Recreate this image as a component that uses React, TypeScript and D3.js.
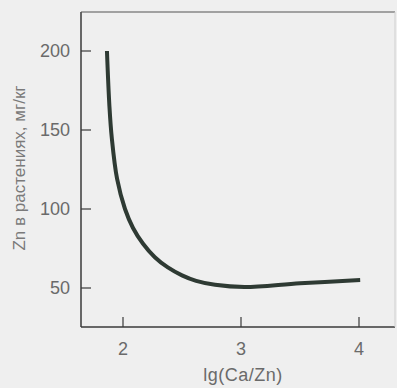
import React from "react";
import * as d3 from "d3";

const lgRatio = [1.864, 1.885, 1.905, 1.95, 2.017, 2.085, 2.17, 2.27, 2.38, 2.5, 2.62, 2.78, 3.03, 3.5, 4.01];
const znPlant = [200, 165, 145, 119, 100, 88, 78, 69.5, 63, 58, 54.5, 52, 50.6, 53, 55];
const xTicks = [2, 3, 4];
const yTicks = [50, 100, 150, 200];

export default function App() {
  const W = 397, H = 388;
  const left = 81, right = 395, top = 12, bottom = 327;
  const x = d3.scaleLinear().domain([2, 4]).range([123, 359]);
  const y = d3.scaleLinear().domain([50, 200]).range([288, 51]);
  const pts = lgRatio.map((v, i) => [v, znPlant[i]] as [number, number]);
  const line = d3.line<[number, number]>().x(d => x(d[0])).y(d => y(d[1])).curve(d3.curveCatmullRom.alpha(0.5));
  const font = "'Liberation Sans', Arial, sans-serif";
  return (
    <svg width={W} height={H} style={{ position: "absolute", left: 0, top: 0, background: "#efefef" }}>
      <rect x={0} y={0} width={W} height={H} fill="#efefef" />
      <line x1={left} y1={top} x2={left} y2={bottom} stroke="#3a3a3a" strokeWidth={1.5} />
      <line x1={left} y1={bottom} x2={right} y2={bottom} stroke="#3a3a3a" strokeWidth={1.5} />
      <line x1={left} y1={top} x2={right} y2={top} stroke="#555" strokeWidth={1.2} />
      <line x1={right} y1={top} x2={right} y2={bottom} stroke="#cfcfcf" strokeWidth={1} />
      {yTicks.map(t => (
        <g key={t}>
          <line x1={left} x2={left + 10} y1={y(t)} y2={y(t)} stroke="#3a3a3a" strokeWidth={1.2} />
          <text x={70} y={y(t)} dy="0.36em" textAnchor="end" fontFamily={font} fontSize={18} fill="#6a6a6a">{t}</text>
        </g>
      ))}
      {xTicks.map(t => (
        <g key={t}>
          <line x1={x(t)} x2={x(t)} y1={bottom} y2={bottom - 10} stroke="#3a3a3a" strokeWidth={1.2} />
          <text x={x(t)} y={355} textAnchor="middle" fontFamily={font} fontSize={18} fill="#6a6a6a">{t}</text>
        </g>
      ))}
      <text x={243} y={381} textAnchor="middle" fontFamily={font} fontSize={18} fill="#6a6a6a" letterSpacing={0.5}>lg(Ca/Zn)</text>
      <text transform="translate(25,168) rotate(-90)" textAnchor="middle" fontFamily={font} fontSize={17} fill="#7a7a7a">Zn в растениях, мг/кг</text>
      <path d={line(pts) || ""} fill="none" stroke="#2e3a33" strokeWidth={4} strokeLinecap="butt" />
    </svg>
  );
}
